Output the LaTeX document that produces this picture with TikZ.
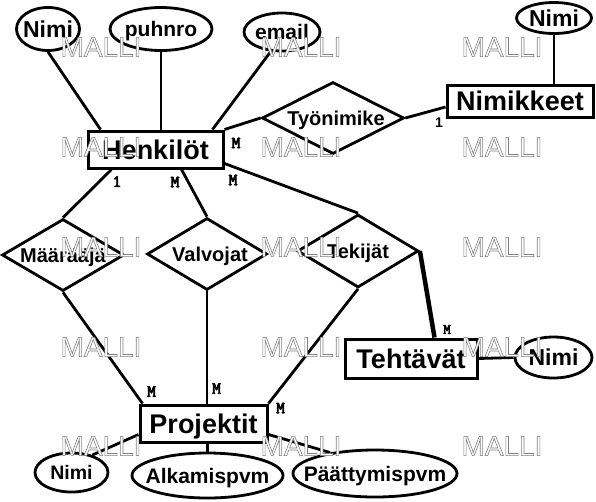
\documentclass[tikz,border=0pt]{standalone}
\usepackage{fontspec}
\setmainfont{Liberation Sans}
\usetikzlibrary{shapes.geometric,calc}
\newcommand{\outlinetext}[1]{\special{pdf:literal direct 2 Tr 0.6 w 0.5 G}#1\special{pdf:literal direct 0 Tr 0 G}}
\newcommand{\boldmono}[1]{\special{pdf:literal direct 2 Tr 0.6 w 0 G}#1\special{pdf:literal direct 0 Tr}}
\tikzset{
  ent/.style={draw, line width=3pt, rectangle, inner sep=0pt,
    font=\bfseries\fontsize{27}{27}\selectfont, text height=22pt, text depth=3pt},
  attr/.style={draw, line width=2.8pt, ellipse, inner sep=0pt},
  atxt/.style={font=\bfseries\fontsize{21}{21}\selectfont, inner sep=0pt, text height=17pt, text depth=2pt},
  ntxt/.style={font=\bfseries\fontsize{#1}{#1}\selectfont, inner sep=0pt},
  rel/.style={draw, line width=2.8pt, diamond, inner sep=0pt},
  rtxt/.style={font=\bfseries\fontsize{20}{20}\selectfont, inner sep=0pt, text height=16pt, text depth=2pt},
  conn/.style={line width=2.8pt},
  thickconn/.style={line width=4.5pt},
  card/.style={font=\ttfamily\fontsize{17}{17}\selectfont, inner sep=0pt},
  cardsans/.style={font=\bfseries\fontsize{14}{14}\selectfont, inner sep=0pt},
  wm/.style={font=\fontsize{28}{28}\selectfont, text=white, inner sep=0pt},
}
\begin{document}
\begin{tikzpicture}[x=1pt,y=-1pt]
\fill[white] (0,0) rectangle (596,501);
\useasboundingbox (0,0) rectangle (596,501);

% entities
\node[ent, minimum width=135pt, minimum height=37pt] (henk) at (155.5,149.5) {Henkilöt};
\node[ent, minimum width=146pt, minimum height=32pt] (nimik) at (520,101) {Nimikkeet};
\node[ent, minimum width=132pt, minimum height=39pt] (teht) at (411,358.5) {Tehtävät};
\node[ent, minimum width=127pt, minimum height=37pt] (proj) at (203.5,423.5) {Projektit};

% attributes
\node[attr, minimum width=63pt, minimum height=43pt,
  label={[ntxt=23, text height=18pt, text depth=2pt]center:Nimi}] (nimi1) at (48,29) {};
\node[attr, minimum width=102pt, minimum height=43pt,
  label={[atxt]center:puhnro}] (puh) at (161,29) {};
\node[attr, minimum width=76pt, minimum height=38pt,
  label={[atxt]center:email}] (email) at (282,32) {};
\node[attr, minimum width=75pt, minimum height=31pt,
  label={[ntxt=23, text height=18pt, text depth=2pt]center:Nimi}] (nimi2) at (554,18) {};
\node[attr, minimum width=77pt, minimum height=41pt,
  label={[ntxt=23, text height=18pt, text depth=2pt]center:Nimi}] (nimi3) at (553.5,357.5) {};
\node[attr, minimum width=73pt, minimum height=39pt,
  label={[ntxt=19.5, text height=16pt, text depth=2pt]center:Nimi}] (nimi4) at (71.5,472.5) {};
\node[attr, minimum width=151pt, minimum height=45pt,
  label={[atxt]center:Alkamispvm}] (alk) at (207.5,475.5) {};
\node[attr, minimum width=164pt, minimum height=47pt,
  label={[atxt]center:Päättymispvm}] (paat) at (375,473.5) {};

% relationships
\node[rel, minimum width=142pt, minimum height=72pt,
  label={[rtxt, xshift=3pt]center:Työnimike}] (tyon) at (333,118) {};
\node[rel, minimum width=122pt, minimum height=72pt,
  label={[rtxt]center:Määrääjä}] (maar) at (63,255) {};
\node[rel, minimum width=120pt, minimum height=72pt,
  label={[rtxt, xshift=3pt]center:Valvojat}] (valv) at (207,254) {};
\node[rel, minimum width=121pt, minimum height=73pt,
  label={[rtxt]center:Tekijät}] (tek) at (358,251) {};

% connectors
\draw[conn] ($(henk.north west)+(14,0)$) -- (nimi1.south);
\draw[conn] (puh.south) -- (puh.south |- henk.north);
\draw[conn] ($(henk.north east)+(-12,0)$) -- (email.240);
\draw[conn] (henk.north east) -- (tyon.west);
\draw[conn] (tyon.east) -- ($(nimik.west)+(0,6)$);
\draw[conn] (nimi2.south) -- (nimi2.south |- nimik.north);
\draw[conn] ($(henk.south west)+(25,0)$) -- (maar.north);
\draw[conn] ($(henk.south west)+(95,0)$) -- (valv.north);
\draw[conn] ($(henk.east)+(0,14)$) -- (tek.north);
\draw[thickconn] (tek.east) -- ($(teht.north west)+(91,0)$);
\draw[conn] (teht.east) -- (nimi3.west);
\draw[conn] (maar.south) -- ($(proj.north west)+(4,0)$);
\draw[conn] (valv.south) -- (valv.south |- proj.north);
\draw[conn] (tek.south) -- (proj.north east);
\draw[conn] ($(proj.south west)+(0,-9)$) -- (nimi4.40);
\draw[conn] (alk.north) -- (alk.north |- proj.south);
\draw[conn] ($(proj.south east)+(0,-9)$) -- (paat.155);

% cardinalities
\node[card] (c1) at (236,143) {\boldmono{M}};
\node[cardsans] (c2) at (439,123) {1};
\node[card] (c3) at (117,181.5) {\boldmono{1}};
\node[card] (c4) at (175,182) {\boldmono{M}};
\node[card] (c5) at (233,180) {\boldmono{M}};
\node[card, font=\ttfamily\fontsize{14}{14}\selectfont] (c6) at (447,329.5) {\boldmono{M}};
\node[card] (c7) at (151.5,391.5) {\boldmono{M}};
\node[card] (c8) at (216.5,388.5) {\boldmono{M}};
\node[card] (c9) at (280.5,408) {\boldmono{M}};

% watermark
\foreach \i/\x in {1/101,2/301,3/502}{
  \foreach \j/\y in {1/47,2/147,3/247,4/347,5/446}{
    \node[wm] (wm\i\j) at (\x,\y) {\outlinetext{MALLI}};
  }
}
\end{tikzpicture}
\end{document}
